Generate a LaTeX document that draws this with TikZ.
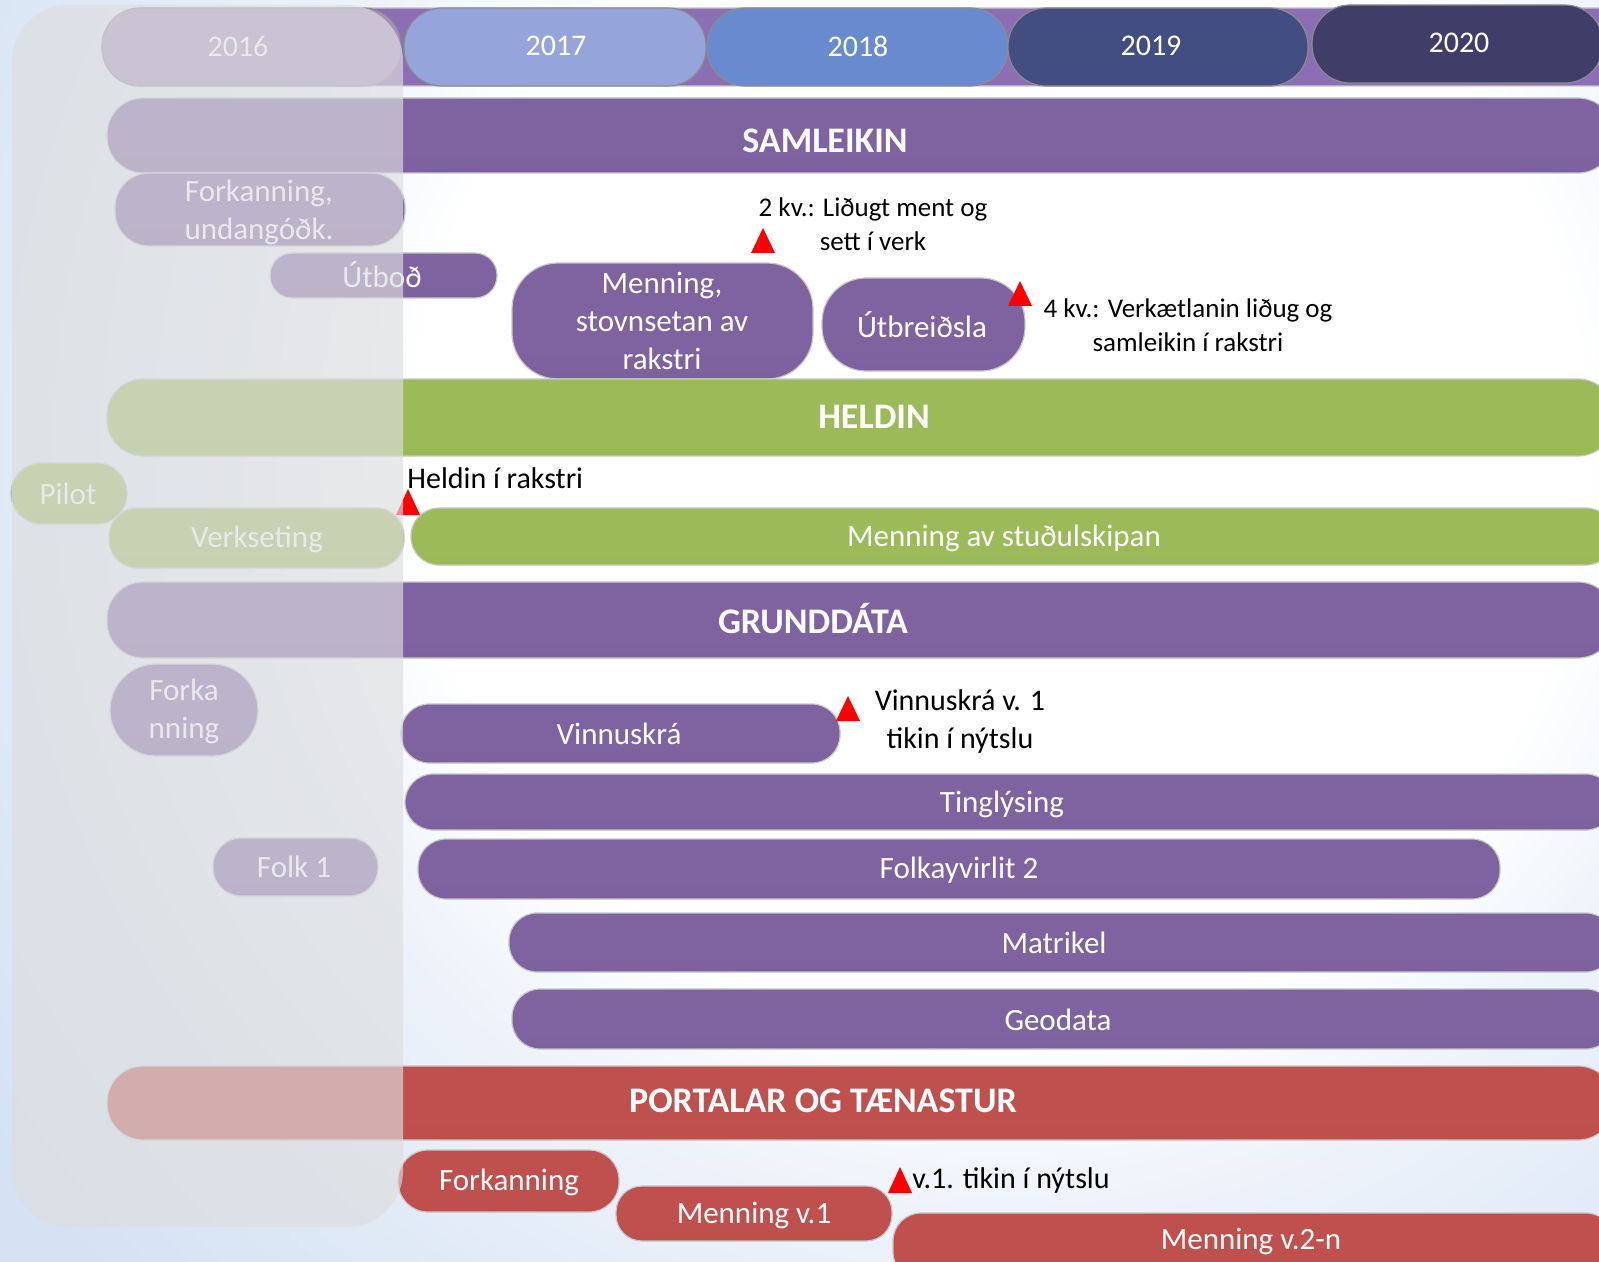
\documentclass[tikz,border=0pt]{standalone}
\usepackage{fontspec}
\setmainfont{Carlito}
\definecolor{bgB}{RGB}{238,243,250}
\definecolor{bgM}{RGB}{223,233,246}
\definecolor{bgC}{RGB}{213,226,244}
\definecolor{pTop}{RGB}{160,135,195}
\definecolor{pMain}{RGB}{127,99,160}
\definecolor{pBot}{RGB}{122,94,155}
\definecolor{gTop}{RGB}{190,220,125}
\definecolor{gMain}{RGB}{155,187,89}
\definecolor{gBot}{RGB}{151,183,86}
\definecolor{rTop}{RGB}{225,112,110}
\definecolor{rMain}{RGB}{192,80,77}
\definecolor{rBot}{RGB}{186,76,73}
\definecolor{sTop}{RGB}{165,138,200}
\definecolor{sMain}{RGB}{140,110,180}
\definecolor{ySix}{RGB}{166,145,186}
\definecolor{ySeven}{RGB}{149,165,219}
\definecolor{yEight}{RGB}{104,139,208}
\definecolor{yNine}{RGB}{66,78,130}
\definecolor{yTwenty}{RGB}{62,62,105}
\definecolor{maskC}{RGB}{221,222,224}
\pgfdeclareradialshading{bgshade}{\pgfpoint{0bp}{0bp}}{color(0bp)=(white);color(290bp)=(white);color(380bp)=(bgB);color(500bp)=(bgM);color(610bp)=(bgC);color(900bp)=(bgC)}
\pgfdeclareverticalshading{purpsh}{100bp}{color(0bp)=(pBot);color(40bp)=(pMain);color(86bp)=(pMain);color(100bp)=(pTop)}
\pgfdeclareverticalshading{grnsh}{100bp}{color(0bp)=(gBot);color(40bp)=(gMain);color(86bp)=(gMain);color(100bp)=(gTop)}
\pgfdeclareverticalshading{rdsh}{100bp}{color(0bp)=(rBot);color(40bp)=(rMain);color(86bp)=(rMain);color(100bp)=(rTop)}
\pgfdeclareverticalshading{stsh}{100bp}{color(0bp)=(sMain);color(80bp)=(sMain);color(100bp)=(sTop)}
\newcommand\boxat[6]{%
  \pgfmathsetmacro\bw{(#5-#3)*0.5}\pgfmathsetmacro\bh{(#6-#4)*0.5}%
  \node[#1, minimum width=\bw pt, minimum height=\bh pt] (#2) at ({(#3+#5)/2},{(#4+#6)/2}) {};}
\tikzset{
  base/.style={inner sep=0pt, outer sep=0pt, draw=black!22, line width=0.6pt},
  purp/.style={base, shading=purpsh},
  grn/.style={base, shading=grnsh},
  rd/.style={base, shading=rdsh},
  yr/.style={base, draw=black!45, rounded corners=19pt},
  wt/.style={text=white, font=\fontsize{15.5}{19}\selectfont, align=center, inner sep=0pt},
  yt/.style={text=white, font=\fontsize{15}{18}\selectfont, inner sep=0pt},
  hd/.style={text=white, font=\fontsize{18}{22}\selectfont\bfseries, inner sep=0pt},
  an/.style={text=black, font=\fontsize{15}{19}\selectfont, align=center, inner sep=0pt},
  ans/.style={text=black, font=\fontsize{13.5}{17}\selectfont, align=center, inner sep=0pt},
  mk/.style={fill={rgb,255:red,255;green,0;blue,0}},
  mask/.style={inner sep=0pt, outer sep=0pt, fill=maskC, fill opacity=0.66, rounded corners=28pt}
}
\begin{document}
\begin{tikzpicture}[x=0.5pt,y=-0.5pt]
\useasboundingbox (0,0) rectangle (1599,1262);
\begin{scope}
\clip (0,0) rectangle (1599,1262);
\node[inner sep=0pt, outer sep=0pt] (bg) at (1000,450) {\pgfuseshading{bgshade}};
\end{scope}
% header
\boxat{base, shading=stsh, rounded corners=19pt}{strip}{102}{8}{1640}{86}
\boxat{yr, fill=ySix}{y16}{102}{8}{401}{86}
\boxat{yr, fill=ySeven}{y17}{404}{8}{706}{86}
\boxat{yr, fill=yEight}{y18}{707}{8}{1008}{86}
\boxat{yr, fill=yNine}{y19}{1008}{8}{1308}{86}
\boxat{yr, fill=yTwenty}{y20}{1312}{5}{1603}{83}
\node[yt] (t16) at (238,46) {2016};
\node[yt] (t17) at (556,46) {2017};
\node[yt] (t18) at (858,46) {2018};
\node[yt] (t19) at (1151,46) {2019};
\node[yt] (t20) at (1459,43) {2020};
% SAMLEIKIN
\boxat{purp, rounded corners=18pt}{sam}{107}{98}{1614}{173}
\node[hd] (tsam) at (825,141) {SAMLEIKIN};
\boxat{purp, rounded corners=17pt}{fork1}{115}{173}{405}{246}
\node[wt] (tfork1) at (259,212) {Forkanning,\\undangóðk.};
\boxat{purp, rounded corners=11pt}{utbod}{270}{253}{497}{298}
\node[wt] (tutbod) at (382,275) {Útboð};
\boxat{purp, rounded corners=23pt}{menstov}{512}{263}{813}{379}
\node[wt] (tmenstov) at (662,321) {Menning,\\stovnsetan av\\rakstri};
\boxat{purp, rounded corners=22pt}{utbreid}{822}{278}{1025}{371}
\node[wt] (tutbreid) at (922,325) {Útbreiðsla};
\coordinate (m1) at (763,253);
\fill[mk] (m1) ++(-12,0) -- ++(24,0) -- ++(-12,-25) -- cycle;
\node[ans] (a1) at (873,224) {2 kv.: Liðugt ment og\\sett í verk};
\coordinate (m2) at (1020,306);
\fill[mk] (m2) ++(-12,0) -- ++(24,0) -- ++(-12,-25) -- cycle;
\node[ans] (a2) at (1188,325) {4 kv.: Verkætlanin liðug og\\samleikin í rakstri};
% HELDIN
\boxat{grn, rounded corners=18pt}{held}{107}{379}{1614}{456}
\node[hd] (theld) at (874,417) {HELDIN};
\boxat{grn, rounded corners=15pt}{pilot}{11}{463}{127}{524}
\node[wt] (tpilot) at (68,494) {Pilot};
\node[an, anchor=west] (a3) at (407,478) {Heldin í rakstri};
\boxat{grn, rounded corners=14pt}{verk}{109}{508}{404}{568}
\node[wt] (tverk) at (257,539) {Verkseting};
\boxat{grn, rounded corners=14pt}{menstud}{411}{508}{1614}{565}
\node[wt] (tmenstud) at (1004,538) {Menning av stuðulskipan};
\coordinate (m3) at (408,515);
\fill[mk] (m3) ++(-12,0) -- ++(24,0) -- ++(-12,-26) -- cycle;
% GRUNDDATA
\boxat{purp, rounded corners=18pt}{grund}{107}{582}{1614}{658}
\node[hd] (tgrund) at (813,619) {GRUNDDÁTA};
\boxat{purp, rounded corners=23pt}{fork2}{110}{664}{258}{756}
\node[wt] (tfork2) at (184,711) {Forka\\nning};
\boxat{purp, rounded corners=14pt}{vinnu}{401}{704}{840}{763}
\node[wt] (tvinnu) at (619,734) {Vinnuskrá};
\coordinate (m4) at (848,721);
\fill[mk] (m4) ++(-12,0) -- ++(24,0) -- ++(-12,-25) -- cycle;
\node[an] (a4) at (960,721) {Vinnuskrá v. 1\\tikin í nýtslu};
\boxat{purp, rounded corners=14pt}{tingl}{405}{774}{1614}{830}
\node[wt] (ttingl) at (1002,804) {Tinglýsing};
\boxat{purp, rounded corners=14pt}{folk1}{213}{838}{378}{896}
\node[wt] (tfolk1) at (294,867) {Folk 1};
\boxat{purp, rounded corners=14pt}{folk2}{418}{839}{1500}{899}
\node[wt] (tfolk2) at (959,870) {Folkayvirlit 2};
\boxat{purp, rounded corners=14pt}{matr}{509}{913}{1614}{972}
\node[wt] (tmatr) at (1054,943) {Matrikel};
\boxat{purp, rounded corners=14pt}{geo}{512}{989}{1614}{1049}
\node[wt] (tgeo) at (1058,1020) {Geodata};
% PORTALAR
\boxat{rd, rounded corners=18pt}{port}{107}{1066}{1614}{1140}
\node[hd] (tport) at (823,1101) {PORTALAR OG TÆNASTUR};
\boxat{rd, rounded corners=15pt}{forkr}{398}{1150}{619}{1212}
\node[wt] (tforkr) at (509,1182) {Forkanning};
\boxat{rd, rounded corners=13pt}{menv1}{616}{1186}{892}{1241}
\node[wt] (tmenv1) at (754,1215) {Menning v.1};
\boxat{rd, rounded corners=14pt}{menv2}{893}{1213}{1614}{1280}
\node[wt] (tmenv2) at (1251,1241) {Menning v.2-n};
\coordinate (m5) at (900,1193);
\fill[mk] (m5) ++(-12,0) -- ++(24,0) -- ++(-12,-26) -- cycle;
\node[an, anchor=west] (a5) at (912,1180) {v.1. tikin í nýtslu};
% 2016 mask
\boxat{mask}{maskbox}{12}{5}{403}{1227}
\end{tikzpicture}
\end{document}
